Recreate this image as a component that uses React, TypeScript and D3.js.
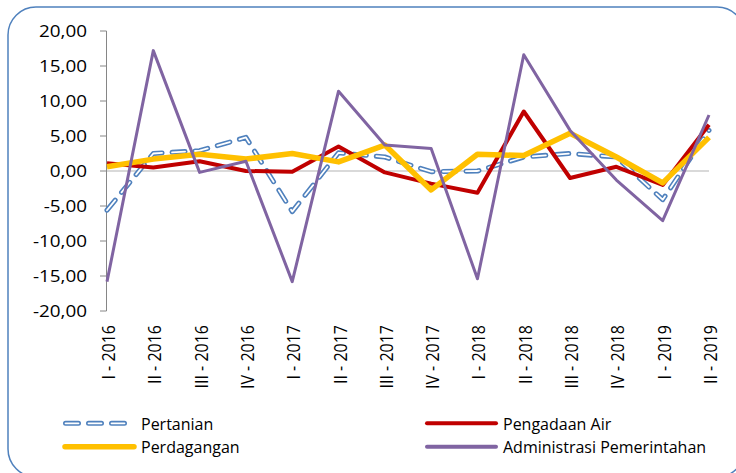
import React from "react";
import * as d3 from "d3";

const categories = [
  "I - 2016", "II - 2016", "III - 2016", "IV - 2016",
  "I - 2017", "II - 2017", "III - 2017", "IV - 2017",
  "I - 2018", "II - 2018", "III - 2018", "IV - 2018",
  "I - 2019", "II - 2019",
];
const pertanian = [-5.6, 2.5, 2.9, 4.8, -5.8, 2.6, 2.0, -0.1, 0.0, 2.0, 2.5, 2.0, -4.1, 5.8];
const pengadaanAir = [1.1, 0.5, 1.4, 0.0, -0.1, 3.5, -0.2, -1.8, -3.1, 8.5, -1.0, 0.6, -2.0, 6.6];
const perdagangan = [0.6, 1.7, 2.4, 1.7, 2.5, 1.3, 3.7, -2.7, 2.4, 2.2, 5.4, 2.0, -1.7, 4.8];
const administrasi = [-15.8, 17.2, -0.2, 1.4, -15.8, 11.4, 3.7, 3.2, -15.4, 16.6, 5.8, -1.3, -7.1, 8.0];
const yTicks = [20, 15, 10, 5, 0, -5, -10, -15, -20];

const FONT = "'Open Sans', sans-serif";

export default function App() {
  const x = d3.scalePoint<string>().domain(categories).range([107, 709]);
  const y = d3.scaleLinear().domain([-20, 20]).range([311, 31]);
  const line = d3
    .line<number>()
    .x((_, i) => x(categories[i]) as number)
    .y((d) => y(d));
  const fmt = (v: number) => d3.format(".2f")(v).replace(".", ",").replace("−", "-");

  const legendItems = [
    { name: "Pertanian", x: 63, y: 423.3, kind: "dash" },
    { name: "Pengadaan Air", x: 425, y: 423.3, kind: "red" },
    { name: "Perdagangan", x: 63, y: 446.8, kind: "yellow" },
    { name: "Administrasi Pemerintahan", x: 425, y: 446.8, kind: "purple" },
  ];

  return (
    <svg
      width={736}
      height={473}
      style={{ position: "absolute", left: 0, top: 0, background: "#fff" }}
    >
      <rect x={8} y={7} width={737} height={470} rx={28} ry={28} fill="#fff" stroke="#4f81bd" strokeWidth={1.5} />

      {/* zero line */}
      <line x1={107} x2={709} y1={y(0)} y2={y(0)} stroke="#d9d9d9" strokeWidth={2} />

      {/* y axis */}
      <line x1={106.5} x2={106.5} y1={y(20)} y2={y(-20)} stroke="#868686" strokeWidth={1} />
      {yTicks.map((t) => (
        <g key={t}>
          <line x1={100} x2={106.5} y1={y(t)} y2={y(t)} stroke="#868686" strokeWidth={1} />
          <text
            transform={`translate(87,${y(t) + 5.7}) scale(1.18,1)`}
            textAnchor="end"
            fontFamily={FONT}
            fontSize={16}
            fill="#000"
          >
            {fmt(t)}
          </text>
        </g>
      ))}

      {/* x labels */}
      {categories.map((c) => (
        <text
          key={c}
          transform={`translate(${(x(c) as number) + 8},325) rotate(-90) scale(1,1.17)`}
          textAnchor="end"
          fontFamily={FONT}
          fontSize={16}
          fill="#000"
        >
          {c}
        </text>
      ))}

      {/* series */}
      <path d={line(pertanian) || ""} fill="none" stroke="#4f81bd" strokeWidth={5} strokeDasharray="13 10" strokeLinecap="round" strokeLinejoin="round" />
      <path d={line(pertanian) || ""} fill="none" stroke="#fff" strokeWidth={1.8} strokeDasharray="13 10" strokeLinecap="round" strokeLinejoin="round" />
      <path d={line(pengadaanAir) || ""} fill="none" stroke="#c00000" strokeWidth={4} strokeLinejoin="round" />
      <path d={line(perdagangan) || ""} fill="none" stroke="#ffc000" strokeWidth={5.5} strokeLinejoin="round" />
      <path d={line(administrasi) || ""} fill="none" stroke="#8064a2" strokeWidth={3} strokeLinejoin="round" />

      {/* legend */}
      {legendItems.map((it) => (
        <g key={it.name}>
          {it.kind === "dash" ? (
            <>
              <line x1={it.x + 2.5} x2={it.x + 66} y1={it.y} y2={it.y} stroke="#4f81bd" strokeWidth={5} strokeDasharray="13 10" strokeLinecap="round" />
              <line x1={it.x + 2.5} x2={it.x + 66} y1={it.y} y2={it.y} stroke="#fff" strokeWidth={1.8} strokeDasharray="13 10" strokeLinecap="round" />
            </>
          ) : (
            <line
              x1={it.x + 2}
              x2={it.x + 71}
              y1={it.y}
              y2={it.y}
              stroke={it.kind === "red" ? "#c00000" : it.kind === "yellow" ? "#ffc000" : "#8064a2"}
              strokeWidth={it.kind === "yellow" ? 5.5 : 4}
              strokeLinecap="round"
            />
          )}
          <text x={it.x + 78} y={it.y + 6.6} fontFamily={FONT} fontSize={16} fill="#000">
            {it.name}
          </text>
        </g>
      ))}
    </svg>
  );
}
